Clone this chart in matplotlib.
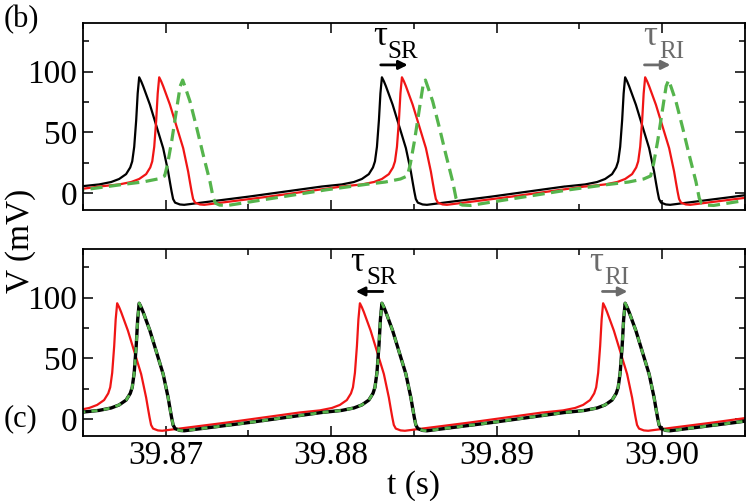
import numpy as np
import matplotlib
matplotlib.use('Agg')
import matplotlib.pyplot as plt
from matplotlib.ticker import MultipleLocator

plt.rcParams['font.family'] = 'serif'
plt.rcParams['font.serif'] = ['Liberation Serif', 'DejaVu Serif']
plt.rcParams['mathtext.fontset'] = 'stix'

# ---- data ----
# spike waveform templates: time offset from peak (ms) and membrane voltage (mV)
sharp_dt_ms = [-3.62, -2.42, -1.69, -1.21, -0.79, -0.54, -0.42, -0.30, -0.18, -0.09,
               0.0, 0.12, 0.24, 0.65, 1.05, 1.45, 1.75, 1.87, 1.96, 2.05, 2.17, 2.46,
               2.72, 6.64, 11.05]
sharp_v = [5.3, 7.0, 9.0, 11.5, 15.5, 21.0, 26.0, 38.0, 60.0, 82.0,
           95.3, 92.0, 88.0, 72.7, 54.8, 36.9, 17.6, 8.0, 1.1, -5.0, -8.0, -9.5,
           -9.8, -3.0, 5.3]
broad_dt_ms = [-3.62, -2.42, -1.51, -1.09, -0.91, -0.66, -0.48, -0.30, -0.15, 0.0,
               0.18, 0.44, 0.85, 1.24, 1.65, 1.85, 1.99, 2.23, 2.72, 8.64, 11.05]
broad_v = [7.0, 9.0, 11.5, 14.0, 24.0, 43.0, 59.0, 75.0, 88.0, 93.0,
           86.0, 75.5, 53.5, 31.4, 9.3, -4.4, -8.5, -10.0, -10.3, 2.5, 7.0]

# spike peak times (s)
b_black_peaks = [39.86840, 39.88307, 39.89777]
b_red_peaks = [39.85494, 39.86961, 39.88428, 39.89898]
b_green_peaks = [39.85636, 39.87103, 39.88570, 39.90040]
c_red_peaks = [39.86707, 39.88174, 39.89644]
c_black_peaks = [39.86840, 39.88307, 39.89777]
c_green_peaks = [39.86840, 39.88307, 39.89777]

x_ticks = [39.87, 39.88, 39.89, 39.90]
x_tick_labels = ['39.87', '39.88', '39.89', '39.90']
y_ticks = [0, 50, 100]

RED = '#f01515'
GREEN = '#55b44c'
GRAY = '#6b6b6b'


def train(peaks, dt_ms, v):
    dt = np.asarray(dt_ms) / 1000.0
    t_all, v_all = [], []
    for p in peaks:
        t_all.append(p + dt)
        v_all.append(np.asarray(v))
    return np.concatenate(t_all), np.concatenate(v_all)


fig = plt.figure(figsize=(7.47, 5.01), dpi=100)
ax_b = fig.add_axes([0.111, 0.581, 0.886, 0.373])
ax_c = fig.add_axes([0.111, 0.130, 0.886, 0.373])

# panel (b)
t, v = train(b_black_peaks, sharp_dt_ms, sharp_v)
ax_b.plot(t, v, color='black', lw=1.6)
t, v = train(b_red_peaks, sharp_dt_ms, sharp_v)
ax_b.plot(t, v, color=RED, lw=1.6)
t, v = train(b_green_peaks, broad_dt_ms, broad_v)
ax_b.plot(t, v, color=GREEN, lw=2.3, linestyle=(0, (3.8, 2.0)))

# panel (c)
t, v = train(c_red_peaks, sharp_dt_ms, sharp_v)
ax_c.plot(t, v, color=RED, lw=1.6)
t, v = train(c_black_peaks, sharp_dt_ms, sharp_v)
ax_c.plot(t, v, color='black', lw=2.4)
t, v = train(c_green_peaks, sharp_dt_ms, sharp_v)
ax_c.plot(t, v, color=GREEN, lw=2.0, linestyle=(0, (2.2, 2.2)))

for ax in (ax_b, ax_c):
    ax.set_xlim(39.865, 39.905)
    ax.set_ylim(-14, 140)
    ax.set_xticks(x_ticks)
    ax.xaxis.set_minor_locator(MultipleLocator(0.005))
    ax.set_yticks(y_ticks)
    ax.yaxis.set_minor_locator(MultipleLocator(25))
    ax.tick_params(which='both', direction='in', top=True, right=True,
                   width=1.1, labelsize=24)
    ax.tick_params(which='major', length=7)
    ax.tick_params(which='minor', length=4)
    ax.tick_params(axis='y', pad=4)
    ax.tick_params(axis='x', pad=3)
    for s in ax.spines.values():
        s.set_linewidth(1.3)

ax_b.set_xticklabels([])
ax_c.set_xticklabels(x_tick_labels)
ax_c.set_xlabel('t (s)', fontsize=24, labelpad=0)
fig.text(0.028, 0.52, 'V (mV)', rotation=90, ha='center', va='center', fontsize=24)
fig.text(0.005, 0.99, '(b)', ha='left', va='top', fontsize=22)
fig.text(0.005, 0.135, '(c)', ha='left', va='bottom', fontsize=22)

arrow_kw = dict(arrowstyle='-|>', lw=2.0, mutation_scale=13, shrinkA=0, shrinkB=0)

# annotations panel (b)
ax_b.text(39.88294, 129, 'τ', ha='center', va='center', fontsize=25)
ax_b.text(39.88342, 116, 'SR', ha='left', va='center', fontsize=18)
ax_b.annotate('', xy=(39.88463, 105.5), xytext=(39.88300, 105.5),
              arrowprops=dict(color='black', **arrow_kw))
ax_b.text(39.89930, 129, 'τ', ha='center', va='center', fontsize=25, color=GRAY)
ax_b.text(39.89984, 116, 'RI', ha='left', va='center', fontsize=18, color=GRAY)
ax_b.annotate('', xy=(39.90051, 105.5), xytext=(39.89894, 105.5),
              arrowprops=dict(color=GRAY, **arrow_kw))

# annotations panel (c)
ax_c.text(39.88161, 129, 'τ', ha='center', va='center', fontsize=25)
ax_c.text(39.88215, 116, 'SR', ha='left', va='center', fontsize=18)
ax_c.annotate('', xy=(39.88149, 105), xytext=(39.88312, 105),
              arrowprops=dict(color='black', **arrow_kw))
ax_c.text(39.89604, 129, 'τ', ha='center', va='center', fontsize=25, color=GRAY)
ax_c.text(39.89652, 116, 'RI', ha='left', va='center', fontsize=18, color=GRAY)
ax_c.annotate('', xy=(39.89791, 105), xytext=(39.89640, 105),
              arrowprops=dict(color=GRAY, **arrow_kw))

fig.savefig('out.png', dpi=100)
